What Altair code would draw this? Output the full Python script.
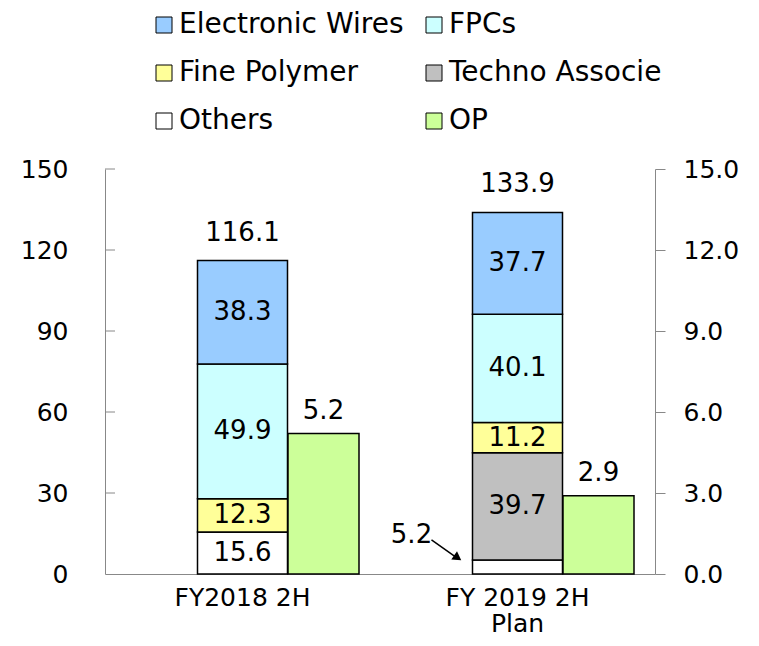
import altair as alt
import pandas as pd

cats = ["FY2018 2H", "FY 2019 2H\nPlan"]
segments = ["Others", "Techno Associe", "Fine Polymer", "FPCs", "Electronic Wires"]
others = [15.6, 5.2]
techno = [0.0, 39.7]
fine = [12.3, 11.2]
fpcs = [49.9, 40.1]
wires = [38.3, 37.7]
op = [5.2, 2.9]

legend_order = ["Electronic Wires", "FPCs", "Fine Polymer", "Techno Associe", "Others", "OP"]
colors = ["#99CCFF", "#CCFFFF", "#FFFF99", "#C0C0C0", "#FFFFFF", "#CCFF99"]

left_ticks = [0, 30, 60, 90, 120, 150]
right_ticks = [0, 3, 6, 9, 12, 15]

series = [others, techno, fine, fpcs, wires]
rows = []
for k, (seg, vals) in enumerate(zip(segments, series)):
    for c, v in zip(cats, vals):
        rows.append({"cat": c, "segment": seg, "value": v, "ord": k})
seg_df = pd.DataFrame(rows)
op_df = pd.DataFrame({"cat": cats, "op": op, "segment": ["OP", "OP"]})
tick_df = pd.DataFrame({"t": left_ticks[1:]})
# callout for the small "Others" segment of the second bar
call_df = pd.DataFrame({"cat": [cats[1]], "value": [others[1]]})

FONT = "DejaVu Sans"

x_enc = alt.X(
    "cat:N", sort=cats,
    scale=alt.Scale(domain=cats, paddingInner=0, paddingOuter=0),
    axis=alt.Axis(title=None, labelAngle=0, labelFontSize=25, labelColor="black",
                  labelPadding=11, labelLineHeight=26, ticks=False, domainColor="#888888",
                  labelExpr="split(datum.value, '\\n')"),
)

yl_scale = alt.Scale(domain=[0, 150], nice=False)
yr_scale = alt.Scale(domain=[0, 15], nice=False)

color_enc = alt.Color(
    "segment:N",
    scale=alt.Scale(domain=legend_order, range=colors),
    legend=alt.Legend(
        title=None, orient="none", legendX=45, legendY=-158, columns=2,
        direction="horizontal",
        symbolType="square", symbolSize=256, symbolStrokeColor="black",
        symbolStrokeWidth=1, labelFontSize=28, labelOffset=1,
        rowPadding=20, columnPadding=16, labelLimit=400,
    ),
)

bars = alt.Chart(seg_df).mark_bar(size=90, stroke="black", strokeWidth=1.5).encode(
    x=x_enc,
    y=alt.Y("value:Q", stack="zero", scale=yl_scale,
            axis=alt.Axis(title=None, values=left_ticks, labelFontSize=25, labelColor="black",
                          ticks=False, tickSize=0, labelPadding=37, grid=False,
                          domainColor="#888888")),
    color=color_enc,
    order=alt.Order("ord:Q", sort="ascending"),
)

seg_text = alt.Chart(seg_df).transform_stack(
    stack="value", groupby=["cat"], as_=["y0", "y1"],
    sort=[alt.SortField("ord", order="ascending")],
).transform_calculate(
    mid="(datum.y0 + datum.y1) / 2"
).transform_filter("datum.value > 8").mark_text(fontSize=26, color="black").encode(
    x=alt.X("cat:N", sort=cats),
    y=alt.Y("mid:Q"),
    text=alt.Text("value:Q", format=".1f"),
)

tot_text = alt.Chart(seg_df).transform_aggregate(
    total="sum(value)", groupby=["cat"]
).mark_text(fontSize=26, color="black", dy=-28).encode(
    x=alt.X("cat:N", sort=cats),
    y=alt.Y("total:Q"),
    text=alt.Text("total:Q", format=".1f"),
)

left_tick_rules = alt.Chart(tick_df).mark_rule(color="#888888", strokeWidth=1).encode(
    y=alt.Y("t:Q"),
    x=alt.value(0),
    x2=alt.value(10),
)

call_text = alt.Chart(call_df).mark_text(fontSize=26, color="black", xOffset=-106, dy=-25).encode(
    x=alt.X("cat:N", sort=cats),
    y=alt.Y("value:Q"),
    text=alt.Text("value:Q", format=".1f"),
)
call_line = alt.Chart(call_df).mark_rule(color="black", strokeWidth=1.5,
                                         xOffset=-86, x2Offset=-62,
                                         yOffset=-20, y2Offset=-3).encode(
    x=alt.X("cat:N", sort=cats),
    x2=alt.X2("cat"),
    y=alt.Y("value:Q"),
    y2=alt.Y2("value"),
)
call_head = alt.Chart(call_df).mark_point(shape="triangle", filled=True, color="black",
                                          size=100, angle=125, opacity=1,
                                          xOffset=-61, yOffset=-3).encode(
    x=alt.X("cat:N", sort=cats),
    y=alt.Y("value:Q"),
)

left = alt.layer(bars, seg_text, tot_text, left_tick_rules, call_line, call_head, call_text)

op_bars = alt.Chart(op_df).mark_bar(size=71, xOffset=81, stroke="black", strokeWidth=1.5).encode(
    x=alt.X("cat:N", sort=cats),
    y=alt.Y("op:Q", scale=yr_scale,
            axis=alt.Axis(title=None, orient="right", values=right_ticks, format=".1f",
                          labelFontSize=25, labelColor="black", tickSize=10,
                          tickColor="#888888", domainColor="#888888", labelPadding=18,
                          grid=False)),
    color=alt.Color("segment:N"),
)
op_text = alt.Chart(op_df).mark_text(fontSize=26, color="black", xOffset=81, dy=-23).encode(
    x=alt.X("cat:N", sort=cats),
    y=alt.Y("op:Q"),
    text=alt.Text("op:Q", format=".1f"),
)
right = alt.layer(op_bars, op_text)

chart = alt.layer(left, right).resolve_scale(y="independent").properties(
    width=550, height=405,
    autosize=alt.AutoSizeParams(type="none"),
    padding={"left": 97, "top": 161, "right": 96, "bottom": 64},
).configure(font=FONT).configure_view(stroke=None).configure_axis(labelFont=FONT).configure_legend(labelFont=FONT)

chart.save("out.html", embed_options={"renderer": "svg", "actions": False})
